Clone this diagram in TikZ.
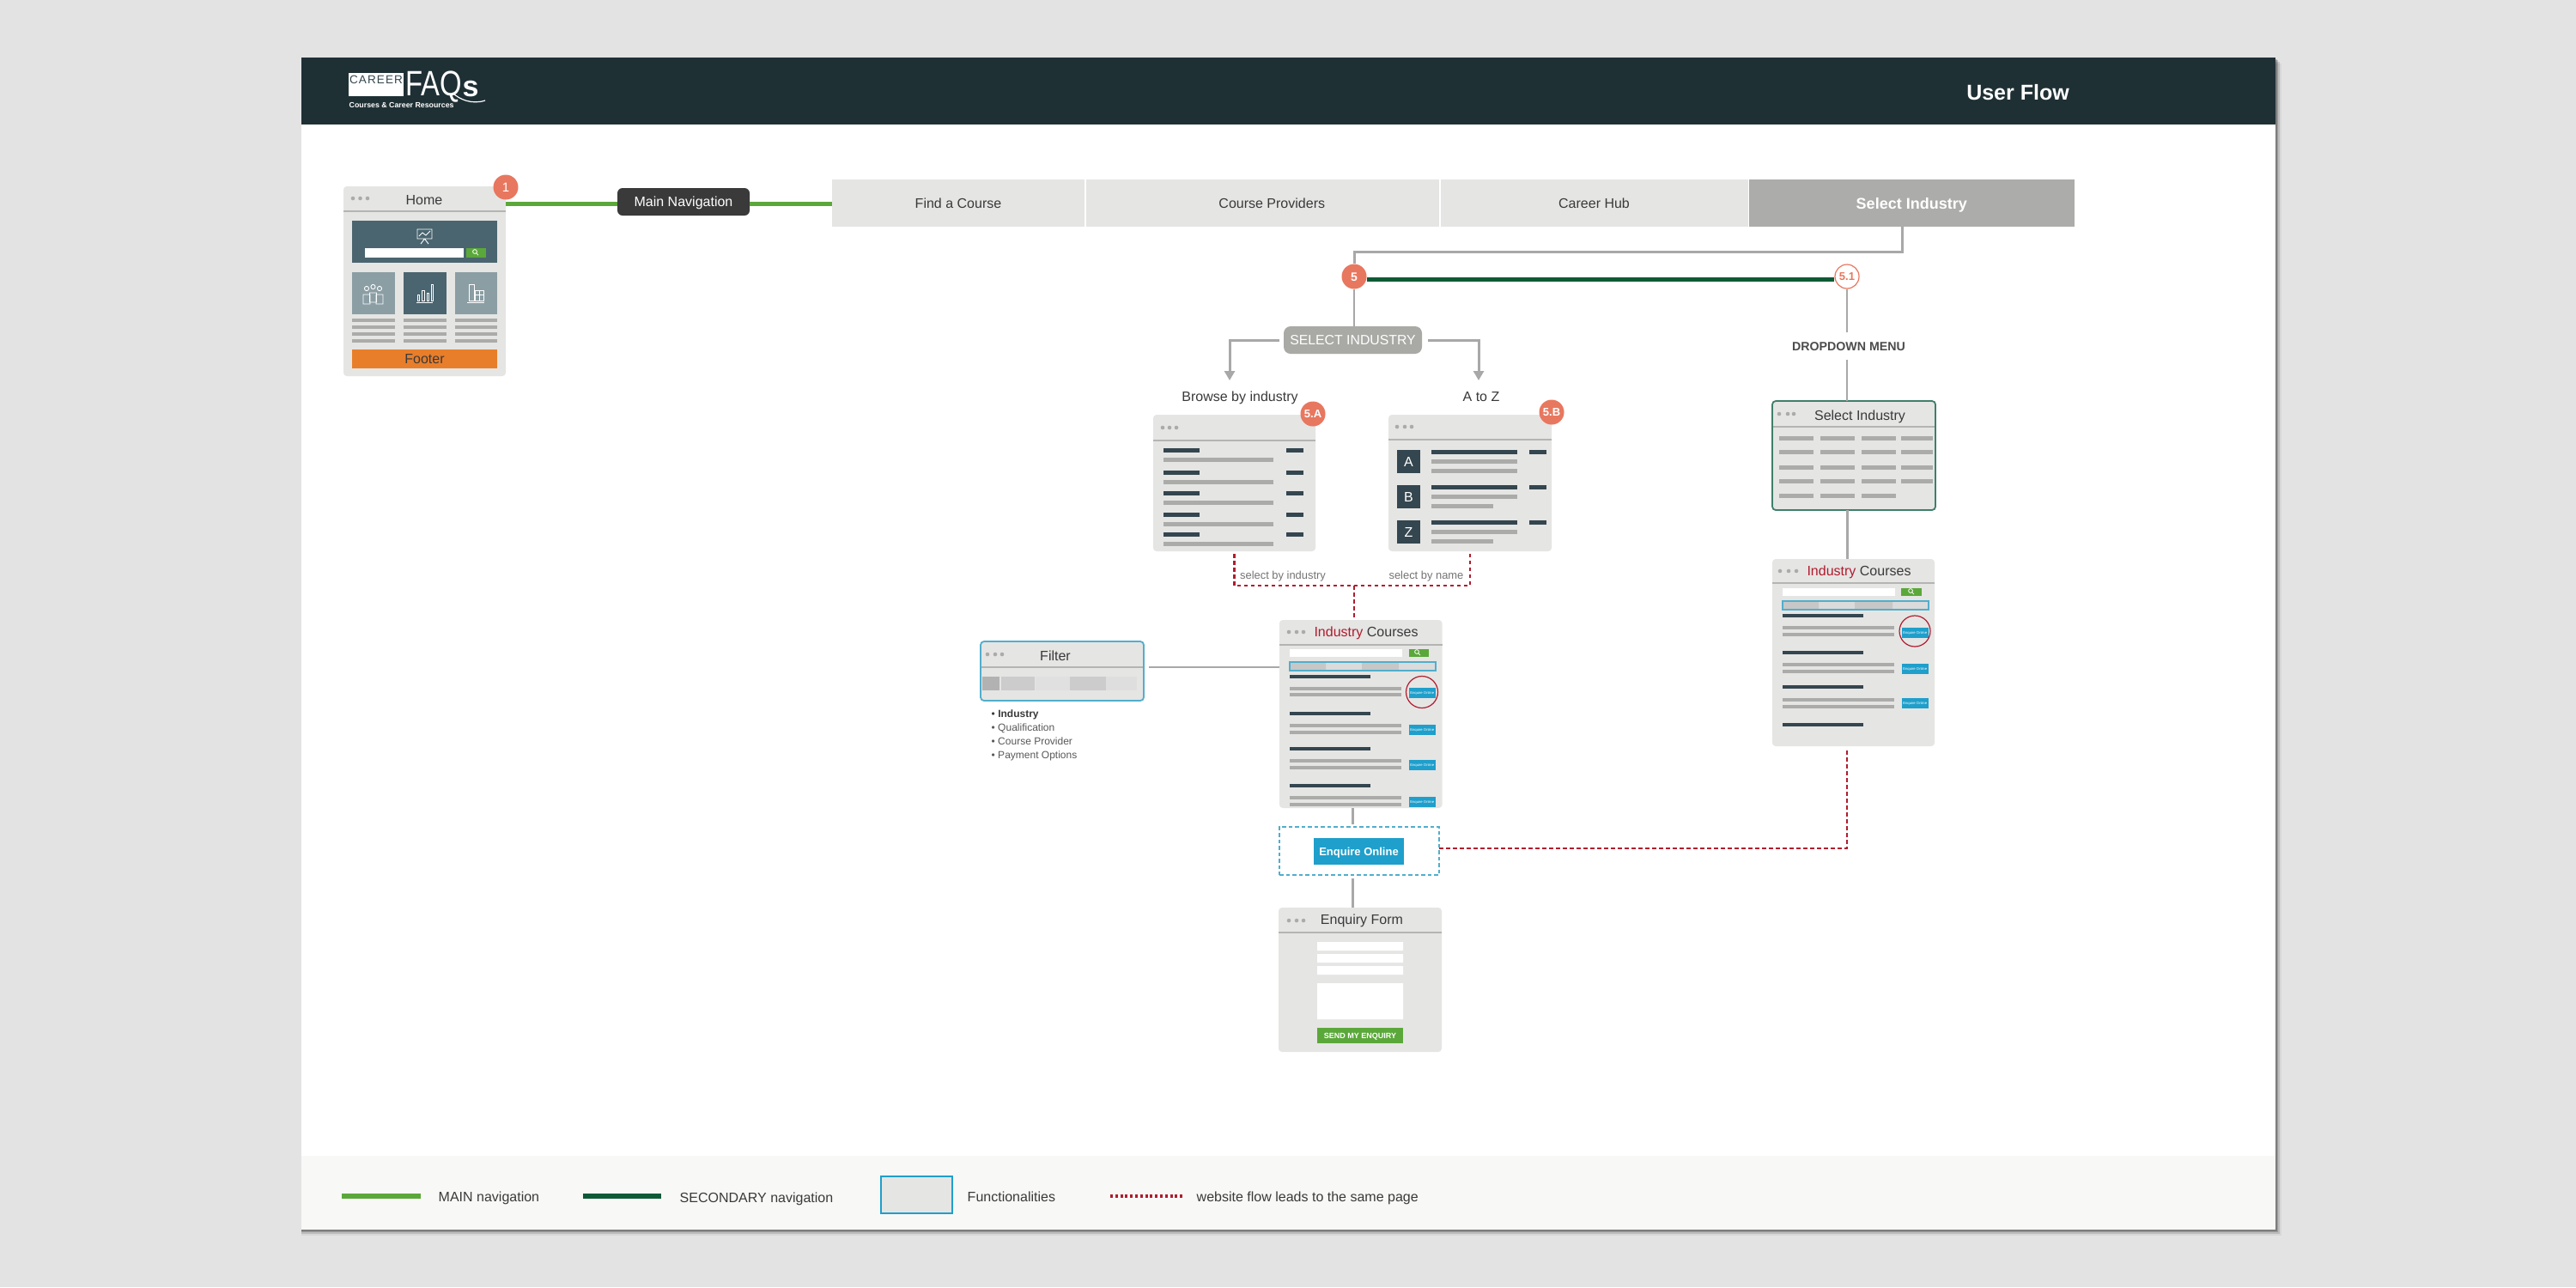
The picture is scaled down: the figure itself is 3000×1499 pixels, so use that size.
\documentclass[tikz,border=0pt]{standalone}
\usepackage{fontspec}
\setmainfont{Liberation Sans}
\usetikzlibrary{arrows.meta,calc}
\definecolor{pagebg}{HTML}{E3E3E3}
\definecolor{headbg}{HTML}{1F3035}
\definecolor{legendbg}{HTML}{F8F8F6}
\definecolor{pane}{HTML}{E5E5E4}
\definecolor{paneline}{HTML}{B4B4B2}
\definecolor{bargray}{HTML}{ABABA9}
\definecolor{bardark}{HTML}{34464F}
\definecolor{slate}{HTML}{4A6570}
\definecolor{slatelt}{HTML}{8B9EA4}
\definecolor{ink}{HTML}{3A3A3A}
\definecolor{salmon}{HTML}{E8775F}
\definecolor{maingreen}{HTML}{5BA83A}
\definecolor{secgreen}{HTML}{0F5A36}
\definecolor{redflow}{HTML}{B01C2E}
\definecolor{cyanbtn}{HTML}{1F9FCB}
\definecolor{cyanline}{HTML}{52AECB}
\definecolor{tealline}{HTML}{3F7F6A}
\definecolor{orangef}{HTML}{E97E2A}
\definecolor{pillgray}{HTML}{A9A9A5}
\definecolor{tilegray}{HTML}{ACACAA}
\definecolor{connector}{HTML}{A8A8A8}
\newcommand\fpx[1]{\fontsize{\fpeval{#1*0.28453}}{\fpeval{#1*0.34}}\selectfont}
\newcommand\txtT[2]{\fpx{#1}\raisebox{0pt}[0.72em][0pt]{#2}}
% name, style, x1, y1, x2, y2, text
\newcommand\mkbx[7]{%
  \pgfmathsetmacro\bxw{(#5-#3)*0.01}\pgfmathsetmacro\bxh{(#6-#4)*0.01}%
  \node[#2,inner sep=0pt,outer sep=0pt,minimum width=\bxw cm,minimum height=\bxh cm,anchor=north west] (#1) at (#3,#4) {#7};}
% colour, x1, x2, y centre, height
\newcommand\hbr[5]{\fill[#1] ({#2},{#4-#5/2}) rectangle ({#3},{#4+#5/2});}
% three dots: x1,x2,x3,y
\newcommand\windots[4]{\foreach \dtx in {#1,#2,#3}{\fill[bargray] (\dtx,#4) circle[radius=2.3];}}
% magnifier
\newcommand\magnif[2]{\draw[white,line width=0.008cm] ({#1-1},{#2-1}) circle[radius=2.4] ({#1+0.7},{#2+0.7}) -- ({#1+3},{#2+3.2});}
% course row on a listing: x of left, dark y, gray y1, gray y2
\newcommand\crow[4]{\hbr{bardark}{#1}{#1+94}{#2}{4}\hbr{bargray}{#1}{#1+130}{#3}{3.5}\hbr{bargray}{#1}{#1+130}{#4}{3.5}}
% button with tiny label, x1 y1
\newcommand\ebtn[2]{\node[tinybtn,minimum width=0.31cm,minimum height=0.12cm,anchor=north west] at (#1,#2) {\txtT{4.2}{Enquire Online}};}
\tikzset{
  x=0.01cm,y=-0.01cm,
  winbox/.style={fill=pane,rounded corners=0.04cm},
  menutile/.style={fill=pane},
  lbl/.style={inner sep=0pt,text=ink},
  badge/.style={circle,fill=salmon,text=white,inner sep=0pt,minimum size=0.29cm},
  badgeo/.style={circle,fill=white,draw=salmon,line width=0.012cm,text=salmon,inner sep=0pt,minimum size=0.28cm},
  conn/.style={draw=connector,line width=0.03cm},
  connthin/.style={draw=connector,line width=0.022cm},
  arrowconn/.style={conn,-{Triangle[width=0.12cm,length=0.11cm]}},
  mainline/.style={draw=maingreen,line width=0.05cm},
  secline/.style={draw=secgreen,line width=0.05cm},
  legline/.style={line width=0.06cm},
  redline/.style={draw=redflow,line width=0.028cm,dash pattern=on 0.045cm off 0.035cm},
  cyanbox/.style={draw=cyanline,line width=0.018cm,dash pattern=on 0.045cm off 0.03cm},
  tinybtn/.style={fill=cyanbtn,text=white,inner sep=0pt},
  ticon/.style={draw=white,line width=0.009cm},
  titlerule/.style={draw=paneline,line width=0.016cm},
}
\begin{document}
\begin{tikzpicture}
\useasboundingbox (0,0) rectangle (3000,1499);
\fill[pagebg] (0,0) rectangle (3000,1499);
% card shadow
\foreach \sh/\op in {7/0.05,5/0.12,3/0.16,1.5/0.2}{\fill[black,opacity=\op] (351,{67+\sh}) rectangle ({2650+\sh},{1432+\sh});}
\fill[white] (351,67) rectangle (2650,1432);
\fill[headbg] (351,67) rectangle (2650,145);
\fill[legendbg] (351,1346) rectangle (2650,1432);
% logo
\mkbx{logobox}{fill=white}{406}{85}{470}{112}{}
\node[lbl,text=bardark] (logocareer) at (438,93) {\addfontfeature{LetterSpace=8}\txtT{13.5}{CAREER}};
\node[lbl,text=white,anchor=west] (logofaq) at (472,97) {\txtT{41}{\scalebox{0.8}[1]{FAQ}}};
\node[lbl,text=white,anchor=west] (logos) at (538,100) {\txtT{34}{\bfseries s}};
\draw[white,line width=0.012cm] (527,108) .. controls (535,116) and (550,122) .. (565,117);
\node[lbl,text=white,anchor=west] (logosub) at (406,122) {\txtT{8.8}{\bfseries Courses \& Career Resources}};
\node[lbl,text=white] (userflow) at (2350,107) {\txtT{25}{\bfseries User Flow}};

% home window
\mkbx{home}{winbox}{400}{217}{589}{438}{}
\draw[paneline,line width=0.022cm] (400,246) -- (589,246);
\windots{411}{419.5}{428}{231}
\node[lbl] (homet) at (494,233) {\txtT{16}{Home}};
\fill[slate] (410,257) rectangle (579,306);
\draw[ticon] (486,267) rectangle (503,278) (488,275) -- (492,271) -- (496,274) -- (501,269) (494.5,278) -- (490,284) (494.5,278) -- (499,284);
\fill[white] (425,289) rectangle (540,300);
\fill[maingreen] (543,289) rectangle (566,300);
\magnif{554}{294}
\fill[slatelt] (410,317) rectangle (459.6,366);
\fill[slate] (469.5,317) rectangle (519.5,366);
\fill[slatelt] (529.5,317) rectangle (579,366);
% people icon
\foreach \pex/\pey in {427/336,434.5/334,442/336}{\draw[ticon] (\pex,\pey) circle[radius=2.6] ({\pex-4},{\pey+18}) -- ({\pex-4},{\pey+7}) -- ({\pex+4},{\pey+7}) -- ({\pex+4},{\pey+18}) -- cycle;}
% bars icon
\draw[ticon] (485,352) -- (504,352);
\foreach \bxa/\bxt in {486/343,491.5/338,497/341,502/331}{\draw[ticon] (\bxa,350) -- (\bxa,\bxt) -- ({\bxa+2.5},\bxt) -- ({\bxa+2.5},350) -- cycle;}
% building icon
\draw[ticon] (544,352) -- (564,352) (546,350) rectangle (552,331) (553,350) rectangle (563,338) (553,343) -- (563,343) (558,338) -- (558,350);
\foreach \lny in {373,381,389,397}{\hbr{bargray}{410}{459.6}{\lny}{4}\hbr{bargray}{469.5}{519.5}{\lny}{4}\hbr{bargray}{529.5}{579}{\lny}{4}}
\mkbx{footer}{fill=orangef,text=ink}{410}{407}{579}{429}{\txtT{16}{Footer}}
\node[badge] (b1) at (589,218) {\txtT{15}{1}};

% nav
\mkbx{mainnav}{fill=ink,rounded corners=0.06cm,text=white}{719}{219}{873}{251}{\txtT{16}{Main Navigation}}
\mkbx{findc}{menutile,text=ink}{969}{209}{1263}{264}{\txtT{16}{Find a Course}}
\mkbx{provs}{menutile,text=ink}{1264.5}{209}{1676}{264}{\hspace{0.22cm}\txtT{16}{Course Providers}}
\mkbx{chub}{menutile,text=ink}{1677.5}{209}{2035.5}{264}{\txtT{16}{Career Hub}}
\mkbx{seltile}{fill=tilegray,text=white}{2036.5}{209}{2416}{264}{\txtT{18}{\bfseries Select Industry}\hspace{0.1cm}}
\coordinate (navy) at (800,237);
\draw[mainline] (home.east |- navy) -- (mainnav.west |- navy);
\draw[mainline] (mainnav.east |- navy) -- (findc.west |- navy);

% badges + connectors
\node[badge] (b5) at (1577,322) {\txtT{14}{\bfseries 5}};
\node[badgeo] (b51) at (2151,322) {\txtT{13}{\bfseries 5.1}};
\coordinate (jog) at (2215,293);
\draw[conn] (seltile.south -| jog) -- (jog) -| (b5.north);
\draw[secline] ([yshift=-0.03cm]b5.east) -- ([yshift=-0.03cm]b51.west);
\mkbx{pill}{fill=pillgray,rounded corners=0.08cm,text=white}{1495}{380}{1656}{412}{\txtT{15.8}{SELECT INDUSTRY}}
\draw[connthin] (b5.south) -- (pill.north -| b5);
\coordinate (arrL) at (1432,443);
\coordinate (arrR) at (1722,443);
\draw[arrowconn] ([xshift=-0.05cm]pill.west) -| (arrL);
\draw[arrowconn] ([xshift=0.07cm]pill.east) -| (arrR);
\node[lbl] (browse) at (1444,462) {\txtT{16}{Browse by industry}};
\node[lbl] (atoz) at (1725,462) {\txtT{16}{A to Z}};

% 5.A
\mkbx{wa}{winbox}{1343}{483}{1532}{642}{}
\draw[titlerule] (1343,513) -- (1532,513);
\windots{1354}{1362}{1370}{498}
\foreach \dky/\gry in {524/535,550/561,574/585,599/610,622/633}{\hbr{bardark}{1355}{1397}{\dky}{5}\hbr{bardark}{1498}{1518}{\dky}{5}\hbr{bargray}{1355}{1483}{\gry}{5}}
\node[badge] (b5a) at (1529,482) {\txtT{13}{\bfseries 5.A}};
% 5.B
\mkbx{wb}{winbox}{1617}{483}{1807}{642}{}
\draw[titlerule] (1617,512) -- (1807,512);
\windots{1627}{1636}{1644}{497}
\mkbx{sqa}{fill=bardark,text=white}{1627}{524}{1654}{551}{\txtT{16}{A}}
\mkbx{sqb}{fill=bardark,text=white}{1627}{565}{1654}{592}{\txtT{16}{B}}
\mkbx{sqz}{fill=bardark,text=white}{1627}{606}{1654}{633}{\txtT{16}{Z}}
\foreach \dky in {526,567,608}{\hbr{bardark}{1667}{1767}{\dky}{5}\hbr{bardark}{1781}{1801}{\dky}{5}\hbr{bargray}{1667}{1767}{\dky+11}{5}}
\hbr{bargray}{1667}{1767}{548}{5}\hbr{bargray}{1667}{1739}{589}{5}\hbr{bargray}{1667}{1739}{630}{5}
\node[badge] (b5b) at (1807,480) {\txtT{13}{\bfseries 5.B}};
\node[lbl,text=black!55] (selind) at (1494,670) {\txtT{12.9}{select by industry}};
\node[lbl,text=black!55] (selname) at (1661,670) {\txtT{12.9}{select by name}};

% Industry Courses (centre)
\mkbx{ic}{winbox}{1490}{722}{1679.5}{941}{}
\draw[titlerule] (1490,751) -- (1679.5,751);
\windots{1501}{1510}{1518}{736}
\node[lbl] (ict) at (1591,736) {\txtT{16}{\textcolor{redflow}{Industry} Courses}};
\fill[white] (1502,756) rectangle (1633,765);
\fill[maingreen] (1640.5,756) rectangle (1664,765);
\magnif{1651}{760}
\fill[black!14] (1502,771) rectangle (1672,781);
\fill[black!22] (1503,772) rectangle (1544,780) (1586,772) rectangle (1629,780);
\draw[cyanline,line width=0.012cm] (1502,771) rectangle (1672,781);
\crow{1502}{788}{802}{809}\crow{1502}{831}{845}{853}\crow{1502}{872}{886}{894}\crow{1502}{915}{929}{937}
\ebtn{1640}{800}\ebtn{1640}{843}\ebtn{1640}{884}\ebtn{1640}{927}
\draw[redflow,line width=0.012cm] (1656,806) circle[radius=18.5];

% Filter
\mkbx{filt}{winbox,draw=cyanline,line width=0.018cm}{1142}{747}{1332}{816}{}
\draw[titlerule] (1143,777) -- (1331,777);
\windots{1150}{1159}{1167}{762}
\node[lbl] (filtt) at (1229,764) {\txtT{16}{Filter}};
\fill[black!30] (1144,788) rectangle (1164,804);
\fill[black!20] (1166,788) rectangle (1205,804);
\fill[black!12] (1206,788) rectangle (1246,804);
\fill[black!20] (1246,788) rectangle (1288,804);
\fill[black!13] (1288,788) rectangle (1324,804);
\coordinate (fy) at (1338,777);
\draw[connthin] (fy) -- (ic.west |- fy);
\node[lbl,anchor=west] (fa) at (1154,831) {\txtT{12}{• \textbf{Industry}}};
\node[lbl,anchor=west,text=black!65] (fb) at (1154,847) {\txtT{12}{• Qualification}};
\node[lbl,anchor=west,text=black!65] (fc) at (1154,863) {\txtT{12}{• Course Provider}};
\node[lbl,anchor=west,text=black!65] (fd) at (1154,879) {\txtT{12}{• Payment Options}};

% Enquire box
\mkbx{enq}{cyanbox}{1490}{963}{1676}{1019}{}
\mkbx{enqb}{fill=cyanbtn,text=white}{1530}{976}{1635}{1007}{\txtT{13}{\bfseries Enquire Online}}
% Form
\mkbx{form}{winbox}{1489}{1057}{1679}{1225}{}
\draw[titlerule] (1489,1086) -- (1679,1086);
\windots{1501}{1510}{1518}{1072}
\node[lbl] (formt) at (1586,1071) {\txtT{16}{Enquiry Form}};
\fill[white] (1534,1097) rectangle (1634,1107) (1534,1111) rectangle (1634,1121) (1534,1125) rectangle (1634,1135) (1534,1145) rectangle (1634,1187);
\mkbx{send}{fill=maingreen,text=white}{1534}{1197}{1634}{1215}{\txtT{9}{\bfseries SEND MY ENQUIRY}}
\coordinate (cx) at (1575,950);
\draw[conn] (ic.south -| cx) -- ([yshift=0.03cm]enq.north -| cx);
\draw[conn] ([yshift=-0.04cm]enq.south -| cx) -- (form.north -| cx);

% Right column
\node[lbl,outer sep=0.11cm,text=black!70] (dd) at (2153,403) {\txtT{14.2}{\bfseries DROPDOWN MENU}};
\mkbx{sw}{winbox,draw=tealline,line width=0.018cm}{2064}{467}{2254}{594}{}
\draw[titlerule] (2065,497) -- (2253,497);
\windots{2072}{2082}{2089}{482}
\node[lbl] (swt) at (2166,484) {\txtT{16}{Select Industry}};
\foreach \gry in {510,526,544,560,577}{\hbr{bargray}{2072}{2111.5}{\gry}{5}\hbr{bargray}{2120}{2160}{\gry}{5}\hbr{bargray}{2168}{2208}{\gry}{5}}
\foreach \gry in {510,526,544,560}{\hbr{bargray}{2214}{2251}{\gry}{5}}
\mkbx{rc}{winbox}{2064}{651}{2253}{869}{}
\draw[titlerule] (2064,679) -- (2253,679);
\windots{2073}{2083}{2092}{665}
\node[lbl] (rct) at (2165,665) {\txtT{16}{\textcolor{redflow}{Industry} Courses}};
\fill[white] (2076,685) rectangle (2207,694);
\fill[maingreen] (2214,685) rectangle (2238,694);
\magnif{2226}{689}
\fill[black!14] (2076,700) rectangle (2246,710);
\fill[black!22] (2077,701) rectangle (2118,709) (2160,701) rectangle (2204,709);
\draw[cyanline,line width=0.012cm] (2076,700) rectangle (2246,710);
\crow{2076}{717}{731}{739}\crow{2076}{760}{774}{782}\crow{2076}{800}{815}{823}
\hbr{bardark}{2076}{2170}{844}{4}
\ebtn{2214}{730}\ebtn{2214}{772}\ebtn{2214}{812}
\draw[redflow,line width=0.012cm] (2230,735) circle[radius=18];
\draw[connthin] (b51.south) -- (dd.north -| b51);
\draw[connthin] (dd.south -| b51) -- (sw.north -| b51);
\draw[conn] (sw.south -| b51) -- (rc.north -| b51);

% red flows
\coordinate (junc) at (1577,682);
\draw[redline,shorten <=0.03cm] (wa.south) |- (junc) -| (wb.south);
\draw[redline] (junc) -- (ic.north -| junc);
\coordinate (redturn) at (2151,988);
\draw[redline] (enq.east |- redturn) -- (redturn) -- ([yshift=-0.03cm]rc.south -| redturn);

% legend
\coordinate (lg1a) at (398,1393);\coordinate (lg1b) at (490,1393);
\coordinate (lg2a) at (679,1393);\coordinate (lg2b) at (770,1393);
\coordinate (lg3a) at (1293,1393);\coordinate (lg3b) at (1380,1393);
\draw[mainline,legline] (lg1a) -- (lg1b);
\draw[secline,legline] (lg2a) -- (lg2b);
\draw[redline,line width=0.04cm,dash pattern=on 0.03cm off 0.028cm] (lg3a) -- (lg3b);
\mkbx{lgbox}{fill=pane,draw=cyanbtn,line width=0.018cm}{1026}{1370}{1109}{1413}{}
\node[lbl,anchor=west] (lgt1) at (510,1394) {\txtT{16}{MAIN navigation}};
\node[lbl,anchor=west] (lgt2) at (791,1395) {\txtT{16}{SECONDARY navigation}};
\node[lbl,anchor=west] (lgt3) at (1126,1394) {\txtT{16}{Functionalities}};
\node[lbl,anchor=west] (lgt4) at (1393,1394) {\txtT{16}{website flow leads to the same page}};
\end{tikzpicture}
\end{document}
